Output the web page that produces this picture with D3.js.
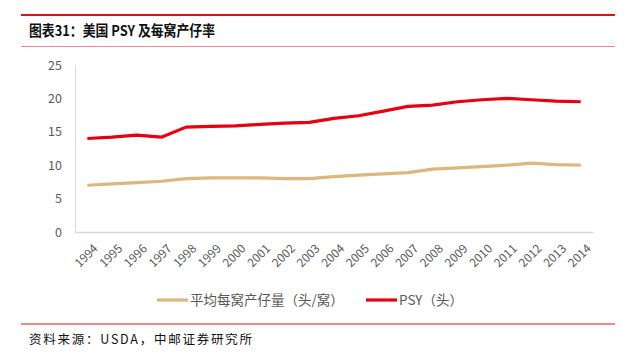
<!DOCTYPE html>
<html><head><meta charset="utf-8">
<script src="https://cdn.jsdelivr.net/npm/d3@7/dist/d3.min.js"></script>
<style>body{margin:0;background:#fff;}svg{display:block;}</style>
</head><body>
<script>
const years = ["1994","1995","1996","1997","1998","1999","2000","2001","2002","2003","2004","2005","2006","2007","2008","2009","2010","2011","2012","2013","2014"];
const litter = [7.0,7.2,7.4,7.6,8.0,8.1,8.1,8.1,8.0,8.0,8.3,8.5,8.7,8.9,9.4,9.6,9.8,10.0,10.3,10.1,10.0];
const psy = [14.0,14.2,14.5,14.2,15.7,15.8,15.9,16.1,16.3,16.4,17.0,17.4,18.1,18.8,19.0,19.5,19.8,20.0,19.8,19.6,19.5];
const yTicks = [0,5,10,15,20,25];
const seriesNames = ["平均每窝产仔量（头/窝）","PSY（头）"];
const colors = ["#DEB77E","#E60012"];

const W=632,H=360;
const svg=d3.select("body").append("svg").attr("width",W).attr("height",H);
const font="'Noto Sans CJK SC','Noto Sans',sans-serif";

// header lines
svg.append("line").attr("x1",21).attr("x2",615).attr("y1",15).attr("y2",15).attr("stroke","#D7141E").attr("stroke-width",2.2);
svg.append("line").attr("x1",21).attr("x2",615).attr("y1",46.5).attr("y2",46.5).attr("stroke","#E88A8E").attr("stroke-width",1.2);
svg.append("text").attr("x",29).attr("y",36).attr("font-family",font).attr("font-weight","bold").attr("font-size",14.5).attr("fill","#111")
  .attr("textLength",186).attr("lengthAdjust","spacingAndGlyphs").text("图表31：美国 PSY 及每窝产仔率");
svg.append("line").attr("x1",21).attr("x2",615).attr("y1",324).attr("y2",324).attr("stroke","#D7141E").attr("stroke-width",1.2);
svg.append("text").attr("x",29).attr("y",344).attr("font-family",font).attr("font-size",12.5).attr("fill","#111")
  .attr("textLength",223).attr("lengthAdjust","spacing").text("资料来源：USDA，中邮证券研究所");

const x=d3.scaleBand().domain(years).range([75,593]);
const y=d3.scaleLinear().domain([0,25]).range([232,65]);

// y axis
const ya=svg.append("g").attr("transform","translate(75,0)").call(d3.axisLeft(y).tickValues(yTicks).tickSize(0).tickPadding(13));
ya.select(".domain").attr("stroke","#D9D9D9");
ya.selectAll("text").attr("font-family",font).attr("font-size",12.5).attr("fill","#595959");
// x axis
const xa=svg.append("g").attr("transform","translate(0,232)").call(d3.axisBottom(x).tickSize(0).tickPadding(6));
xa.select(".domain").attr("stroke","#D9D9D9").attr("stroke-width",1.5);
xa.selectAll("text").attr("font-family",font).attr("font-size",12).attr("fill","#595959")
  .attr("text-anchor","end").attr("dy","0.35em").attr("transform",function(){return "translate(4,10) rotate(-45)";});

const line=d3.line().x((d,i)=>x(years[i])+x.bandwidth()/2).y(d=>y(d));
[litter,psy].forEach((s,k)=>{
  svg.append("path").datum(s).attr("d",line).attr("fill","none").attr("stroke",colors[k]).attr("stroke-width",3.2).attr("stroke-linejoin","round");
});

// legend
const lg=[{x:157,c:colors[0],t:seriesNames[0],w:147},{x:366,c:colors[1],t:seriesNames[1],w:52}];
lg.forEach(l=>{
  svg.append("line").attr("x1",l.x).attr("x2",l.x+31).attr("y1",300).attr("y2",300).attr("stroke",l.c).attr("stroke-width",3.2);
  svg.append("text").attr("x",l.x+33).attr("y",304.5).attr("font-family",font).attr("font-size",13.5).attr("fill","#595959").text(l.t);
});
</script>
</body></html>
